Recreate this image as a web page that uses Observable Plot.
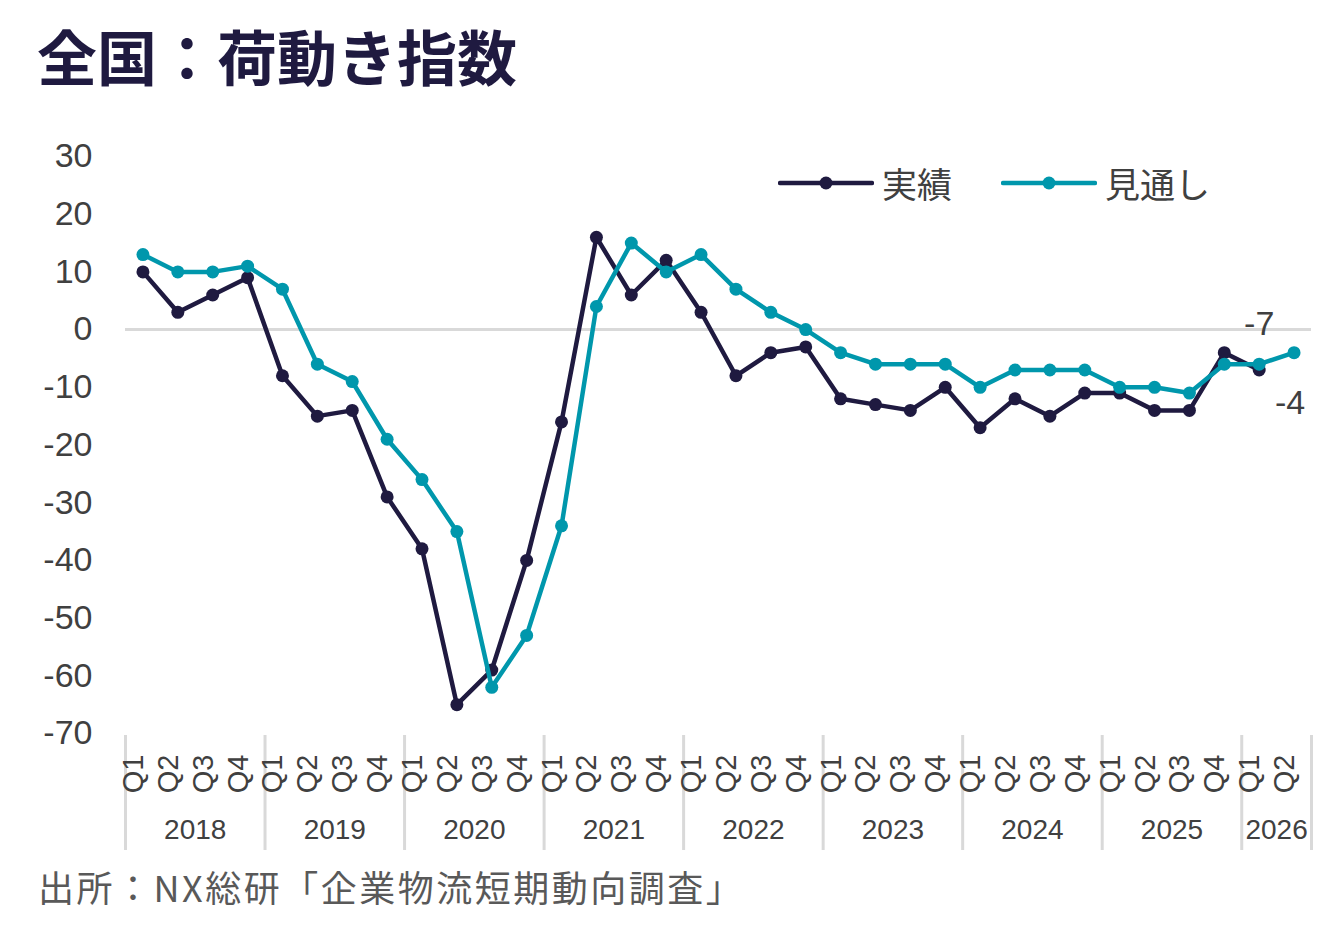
<!DOCTYPE html>
<html>
<head>
<meta charset="utf-8">
<script src="https://cdn.jsdelivr.net/npm/d3@7"></script>
<script src="https://cdn.jsdelivr.net/npm/@observablehq/plot@0.6"></script>
<style>
  html, body { margin: 0; padding: 0; background: #fff; }
  #wrap { position: relative; width: 1321px; height: 939px; overflow: hidden; }
  #title { position: absolute; left: 37px; top: 25px; font-family: "Noto Sans CJK JP", sans-serif; font-weight: 700; font-size: 60px; line-height: 1; color: #1f1a40; white-space: nowrap; }
  #chart { position: absolute; left: 0; top: 110px; }
  #legend { position: absolute; top: 162px; left: 778px; height: 42px; font-family: "Noto Sans CJK JP", sans-serif; font-size: 35px; line-height: 42px; color: #404040; display: flex; align-items: center; white-space: nowrap; }
  .item { display: flex; align-items: center; margin-right: 49px; }
  .item svg { margin-right: 8px; display: block; }
  #caption { position: absolute; left: 38px; top: 865px; font-family: "Noto Sans CJK JP", sans-serif; font-size: 36px; letter-spacing: 2.5px; line-height: 1.2; color: #595959; white-space: nowrap; }
</style>
</head>
<body>
<div id="wrap">
  <div id="title"></div>
  <div id="chart"></div>
  <div id="legend"></div>
  <div id="caption"></div>
</div>
<script>
const titleText = "全国：荷動き指数";
const captionText = "出所：NX総研「企業物流短期動向調査」";
const seriesNames = ["実績", "見通し"];
const seriesColors = ["#1f1a40", "#0097ac"];
const years = [2018, 2019, 2020, 2021, 2022, 2023, 2024, 2025, 2026];
const quarters = ["Q1", "Q2", "Q3", "Q4"];
const yTicks = [30, 20, 10, 0, -10, -20, -30, -40, -50, -60, -70];
// 実績 (actual), 2018Q1 .. 2026Q1
const actual = [10, 3, 6, 9, -8, -15, -14, -29, -38, -65, -59, -40, -16, 16, 6, 12,
  3, -8, -4, -3, -12, -13, -14, -10, -17, -12, -15, -11, -11, -14, -14, -4, -7];
// 見通し (outlook), 2018Q1 .. 2026Q2
const outlook = [13, 10, 10, 11, 7, -6, -9, -19, -26, -35, -62, -53, -34, 4, 15, 10,
  13, 7, 3, 0, -4, -6, -6, -6, -10, -7, -7, -7, -10, -10, -11, -6, -6, -4];

const nPeriods = outlook.length;
const periods = [];
for (const y of years) for (const q of quarters) {
  if (periods.length < nPeriods) periods.push({i: periods.length, year: y, q});
}
const yearInfo = years.map(y => {
  const idx = periods.filter(p => p.year === y).map(p => p.i);
  return {year: y, mid: (idx[0] + idx[idx.length - 1]) / 2, start: idx[0] - 0.5, end: idx[idx.length - 1] + 0.5};
});
const separators = Array.from(new Set(yearInfo.flatMap(d => [d.start, d.end])));

const actualData = actual.map((v, i) => ({i, v}));
const outlookData = outlook.map((v, i) => ({i, v}));
const lastA = actualData[actualData.length - 1];
const lastO = outlookData[outlookData.length - 1];

document.getElementById("title").textContent = titleText;
document.getElementById("caption").textContent = captionText;

const legend = document.getElementById("legend");
seriesNames.forEach((name, k) => {
  const item = document.createElement("div");
  item.className = "item";
  item.innerHTML = `<svg width="96" height="16"><line x1="2" x2="94" y1="8" y2="8" stroke="${seriesColors[k]}" stroke-width="4.5" stroke-linecap="round"/><circle cx="48" cy="8" r="6.5" fill="${seriesColors[k]}"/></svg><span>${name}</span>`;
  legend.appendChild(item);
});

const W = 1321, H = 760, MT = 46, MB = 137;
const chart = Plot.plot({
  width: W,
  height: H,
  marginLeft: 125,
  marginRight: 10,
  marginTop: MT,
  marginBottom: MB,
  style: {fontFamily: "'Liberation Sans', Arial, sans-serif", background: "transparent", color: "#404040"},
  x: {type: "linear", domain: [-0.5, nPeriods - 0.5], axis: null},
  y: {domain: [-70, 30], axis: null},
  marks: [
    Plot.ruleY([0], {stroke: "#d9d9d9", strokeWidth: 3}),
    Plot.axisY({ticks: yTicks, label: null, tickSize: 0, tickPadding: 33, fontSize: 34, tickFormat: d => String(d), fill: "#404040"}),
    Plot.ruleX(separators, {x: d => d, stroke: "#d9d9d9", strokeWidth: 3, insetTop: H - MT - MB + 2, insetBottom: -117}),
    Plot.text(periods, {x: "i", text: "q", frameAnchor: "bottom", rotate: -90, textAnchor: "end", dy: 21, fontSize: 29, fill: "#404040"}),
    Plot.text(yearInfo, {x: "mid", text: d => String(d.year), frameAnchor: "bottom", dy: 105, fontSize: 28, fill: "#404040"}),
    Plot.line(actualData, {x: "i", y: "v", stroke: seriesColors[0], strokeWidth: 4.5}),
    Plot.dot(actualData, {x: "i", y: "v", fill: seriesColors[0], r: 6.5}),
    Plot.line(outlookData, {x: "i", y: "v", stroke: seriesColors[1], strokeWidth: 4.5}),
    Plot.dot(outlookData, {x: "i", y: "v", fill: seriesColors[1], r: 6.5}),
    Plot.text([lastA], {x: "i", y: "v", text: d => String(d.v), dy: -46, fontSize: 34, fill: "#404040"}),
    Plot.text([lastO], {x: "i", y: "v", text: d => String(d.v), dx: -4, dy: 50, fontSize: 34, fill: "#404040"})
  ]
});
document.getElementById("chart").appendChild(chart);
</script>
</body>
</html>
